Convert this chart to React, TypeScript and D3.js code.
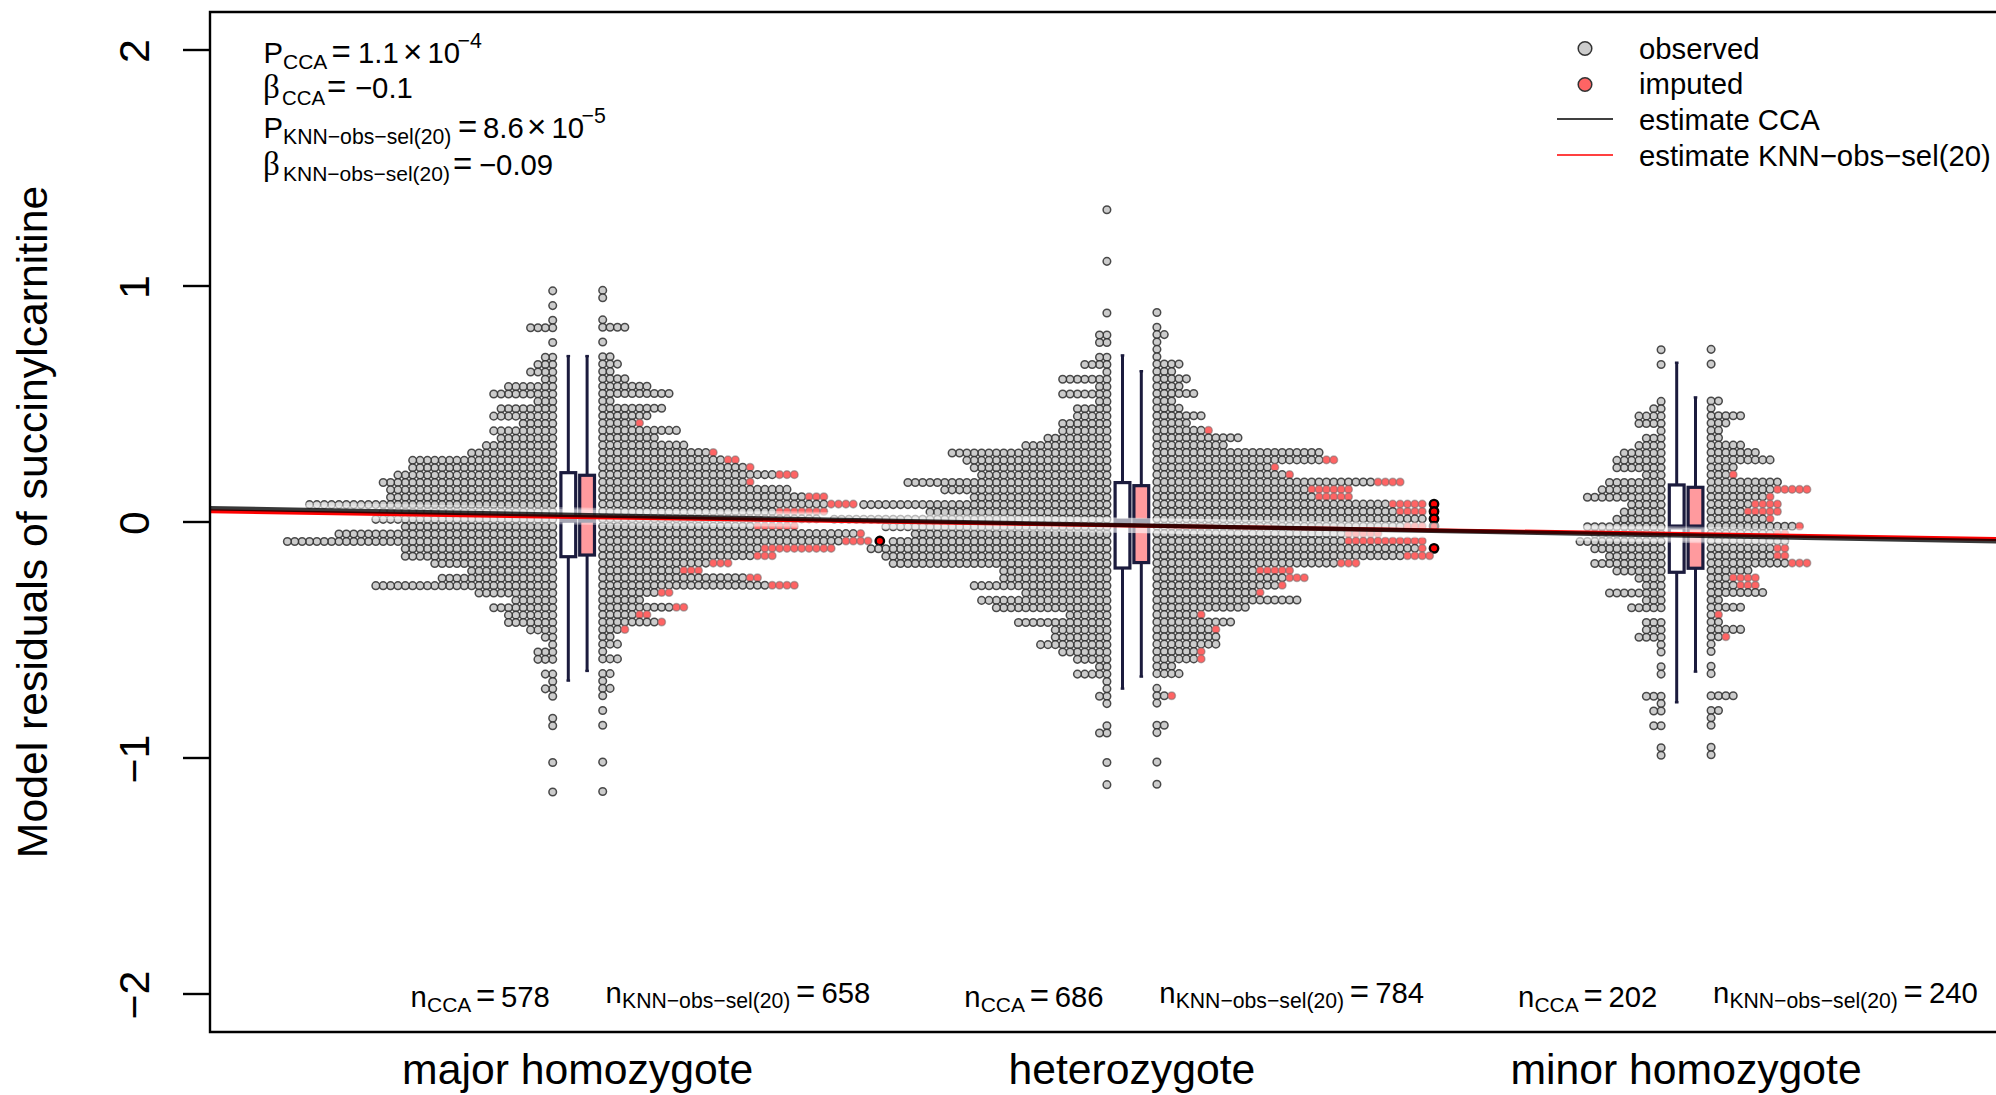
import React from "react";
import * as d3 from "d3";

const W = 1996, H = 1095;
const FONT = "'Liberation Sans', Arial, sans-serif";

// genotype groups
const groupLabels = ["major homozygote", "heterozygote", "minor homozygote"];
const nCCA = [578, 686, 202];
const nKNN = [658, 784, 240];
const yTicks = [-2, -1, 0, 1, 2];

// bins of the swarm (data units)
const binOrigin = 0.0113;
const binWidth = 0.03123;

// observed + imputed dots per bin, listed from the top bin downwards
const g1Top = 31;
const g1CcaCounts = [1,0,1,0,1,4,0,1,0,2,3,4,2,7,9,3,8,9,5,9,8,10,12,20,20,22,24,23,23,34,24,25,21,30,37,21,21,17,12,16,25,11,6,9,7,7,4,2,1,3,3,0,2,1,2,1,0,0,1,1,0,0,0,0,1,0,0,0,1];
const g1KnnCounts = [1,1,0,0,1,4,0,1,0,2,3,2,4,7,10,2,9,7,6,11,8,12,16,19,21,27,21,26,31,35,31,30,27,36,37,32,24,18,14,22,27,10,6,12,7,9,4,2,3,1,3,0,2,1,2,1,0,1,0,1,0,0,0,0,1,0,0,0,1];
const g1KnnImputed = [[13,1],[9,1],[8,2],[7,1],[6,3],[5,1],[3,3],[2,4],[1,7],[-1,6],[-2,1],[-3,4],[-4,10],[-5,3],[-6,3],[-7,3],[-8,2],[-9,4],[-10,2],[-12,2],[-13,2],[-14,1],[-15,1]];
const g1KnnPiled = [-3];

const g2Top = 42;
const g2CcaCounts = [1,0,0,0,0,0,0,1,0,0,0,0,0,0,1,0,0,2,2,0,2,4,1,7,2,7,2,5,5,7,7,9,12,22,20,19,18,28,23,19,34,25,38,31,27,30,33,31,30,15,15,19,12,18,16,6,13,8,8,10,7,5,2,5,1,1,2,1,0,0,1,2,0,0,0,1,0,0,1];
const g2KnnCounts = [0,0,0,0,0,0,0,0,0,0,0,0,0,0,1,0,1,2,1,1,1,4,3,5,4,6,3,4,7,5,8,12,10,23,25,17,19,34,27,27,37,37,37,37,31,37,37,38,28,19,21,18,15,20,13,7,11,9,9,9,7,7,3,4,0,1,3,1,0,0,2,1,0,0,0,1,0,0,1];
const g2KnnImputed = [[12,1],[8,2],[7,1],[6,1],[5,4],[4,6],[3,5],[2,5],[1,4],[-1,3],[-2,5],[-3,11],[-4,1],[-5,4],[-6,3],[-7,5],[-8,3],[-9,1],[-10,1],[-13,1],[-15,1],[-18,1],[-19,1],[-24,1]];
const g2KnnPiled = [2, 1, 0, -1, -4];

const g3Top = 23;
const g3CcaCounts = [1,0,1,0,0,0,0,1,2,4,4,1,3,4,6,7,7,3,8,9,11,5,6,7,11,10,12,10,8,10,7,4,3,8,3,5,0,3,3,4,1,1,0,1,1,0,0,3,1,2,0,2,0,0,1,1];
const g3KnnCounts = [1,0,1,0,0,0,0,2,1,5,3,2,2,5,7,9,4,4,10,14,9,10,10,9,13,11,11,11,11,14,6,7,7,8,2,5,2,2,5,3,1,1,0,1,1,0,0,4,0,2,1,1,0,0,1,1];
const g3KnnImputed = [[6,1],[4,5],[3,1],[2,4],[1,5],[0,1],[-1,1],[-2,2],[-4,2],[-5,2],[-6,3],[-8,4],[-9,3],[-13,1],[-16,1]];
const g3KnnPiled: number[] = [];

// box statistics: [whisker low, q1, median, q3, whisker high]
const ccaBoxes = [
  [-0.672, -0.147, 0.008, 0.209, 0.703],
  [-0.706, -0.195, 0.004, 0.167, 0.706],
  [-0.764, -0.213, -0.021, 0.157, 0.675],
];
const knnBoxes = [
  [-0.631, -0.14, 0.008, 0.198, 0.703],
  [-0.655, -0.172, 0.004, 0.154, 0.639],
  [-0.634, -0.196, -0.021, 0.147, 0.528],
];

// regression estimates at genotype 0 and 2
const ccaEstimate = [0.0297, -0.0572];
const knnEstimate = [0.0212, -0.0513];
const ribbonHalf = 0.032;

const cols = {
  obsFill: "#cccccc",
  impFill: "#ff6464",
  dotStroke: "rgba(45,45,45,0.85)",
  navy: "#1b1b3d",
  pink: "#ff9a9e",
};

const x = d3.scaleLinear().domain([0, 2]).range([577.7, 1686.1]);
const y = d3.scaleLinear().domain([-2, 2]).range([994, 50]);
const plot = { left: 210, top: 12, bottom: 1032, right: 2000 };
const dotStep = 7.37;
const colOffset = 25;
const boxOffset = 9.4;
const boxHalf = 7.4;
const pileCol = 37.6;

type Dot = { cx: number; cy: number; kind: "obs" | "imp" | "pile" };

function swarm(g: number, top: number, counts: number[], side: -1 | 1, imputed: number[][] = [], piled: number[] = [], shift = 0): Dot[] {
  const impMap = new Map(imputed.map((d) => [d[0], d[1]]));
  const out: Dot[] = [];
  const col0 = x(g) + side * colOffset;
  counts.forEach((n, i) => {
    const k = top - i;
    const cy = y(binOrigin + binWidth * k + shift);
    const imp = impMap.get(k) ?? 0;
    for (let c = 0; c < n; c++) {
      out.push({ cx: col0 + side * c * dotStep, cy, kind: c >= n - imp ? "imp" : "obs" });
    }
    if (piled.includes(k)) out.push({ cx: col0 + side * pileCol * dotStep, cy, kind: "pile" });
  });
  return out;
}

const allDots: Dot[] = [
  ...swarm(0, g1Top, g1CcaCounts, -1),
  ...swarm(0, g1Top, g1KnnCounts, 1, g1KnnImputed, g1KnnPiled, 0.002),
  ...swarm(1, g2Top, g2CcaCounts, -1),
  ...swarm(1, g2Top, g2KnnCounts, 1, g2KnnImputed, g2KnnPiled, 0.002),
  ...swarm(2, g3Top, g3CcaCounts, -1),
  ...swarm(2, g3Top, g3KnnCounts, 1, g3KnnImputed, g3KnnPiled, 0.002),
];

function T({ x, y, s, children, anchor, rotate }: any) {
  return (
    <text x={x} y={y} fontSize={s} fontFamily={FONT} textAnchor={anchor} fill="#000"
      transform={rotate ? `rotate(-90 ${x} ${y})` : undefined}>{children}</text>
  );
}
function Beta({ x, y }: any) {
  return <text x={x} y={y} fontSize={33} fontFamily="'Liberation Serif', serif" fill="#000">β</text>;
}

function Box({ g, side, st, fill }: any) {
  const cx = x(g) + side * boxOffset;
  const [lo, q1, med, q3, hi] = st;
  return (
    <g stroke={cols.navy} fill="none">
      <line x1={cx} x2={cx} y1={y(hi)} y2={y(q3)} strokeWidth={3} />
      <line x1={cx} x2={cx} y1={y(lo)} y2={y(q1)} strokeWidth={3} />
      <line x1={cx - 1.8} x2={cx + 1.8} y1={y(hi)} y2={y(hi)} strokeWidth={2.4} />
      <line x1={cx - 1.8} x2={cx + 1.8} y1={y(lo)} y2={y(lo)} strokeWidth={2.4} />
      <rect x={cx - boxHalf} width={boxHalf * 2} y={y(q3)} height={y(q1) - y(q3)} fill={fill} strokeWidth={3.2} />
      <line x1={cx - boxHalf} x2={cx + boxHalf} y1={y(med)} y2={y(med)} strokeWidth={5} />
    </g>
  );
}

function EstimateRibbon({ est }: { est: number[] }) {
  const gs = [-0.7, 2.6];
  const at = (g: number) => est[0] + ((est[1] - est[0]) * g) / 2;
  const area = d3.area<number>().x((g) => x(g)).y0((g) => y(at(g) - ribbonHalf)).y1((g) => y(at(g) + ribbonHalf));
  return <path d={area(gs) as string} fill="rgba(255,255,255,0.38)" />;
}
function EstimateLine({ est, color, width, opacity }: any) {
  const gs = [-0.7, 2.6];
  const at = (g: number) => est[0] + ((est[1] - est[0]) * g) / 2;
  const line = d3.line<number>().x((g) => x(g)).y((g) => y(at(g)));
  return <path d={line(gs) as string} fill="none" stroke={color} strokeWidth={width} opacity={opacity} />;
}

export default function App() {
  const subK = "KNN−obs−sel(20)";
  return (
    <svg width={W} height={H} viewBox={`0 0 ${W} ${H}`}
      style={{ position: "absolute", left: 0, top: 0, display: "block", background: "#fff" }}>
      <defs>
        <clipPath id="plotClip">
          <rect x={plot.left} y={plot.top} width={plot.right - plot.left} height={plot.bottom - plot.top} />
        </clipPath>
      </defs>

      <g clipPath="url(#plotClip)">
        {allDots.map((d, i) => (
          <circle key={i} cx={d.cx} cy={d.cy} r={d.kind === "pile" ? 4.2 : 3.8}
            fill={d.kind === "obs" ? cols.obsFill : d.kind === "imp" ? cols.impFill : "#ff0000"}
            stroke={d.kind === "pile" ? "#000" : d.kind === "imp" ? "rgba(110,110,110,0.5)" : cols.dotStroke}
            strokeWidth={d.kind === "pile" ? 2.4 : 1.5} />
        ))}
        {ccaBoxes.map((st, g) => <Box key={g} g={g} side={-1} st={st} fill="#ffffff" />)}
        {knnBoxes.map((st, g) => <Box key={g} g={g} side={1} st={st} fill={cols.pink} />)}
        <EstimateRibbon est={ccaEstimate} />
        <EstimateRibbon est={knnEstimate} />
        <EstimateLine est={knnEstimate} color="#ff0000" width={4} opacity={1} />
        <EstimateLine est={ccaEstimate} color="#000000" width={4.4} opacity={0.78} />
      </g>

      {/* frame: left, top and bottom, the right side runs off the page */}
      <path d={`M${W + 4},${plot.top}H${plot.left}V${plot.bottom}H${W + 4}`} fill="none" stroke="#000" strokeWidth={2.4} />

      {yTicks.map((t) => (
        <g key={t}>
          <line x1={183} x2={plot.left} y1={y(t)} y2={y(t)} stroke="#000" strokeWidth={2.4} />
          <T x={148.5} y={y(t) + 1} s={42.8} anchor="middle" rotate>{t < 0 ? `−${-t}` : t}</T>
        </g>
      ))}
      <T x={46.5} y={522} s={42.75} anchor="middle" rotate>Model residuals of succinylcarnitine</T>
      {groupLabels.map((l, g) => <T key={l} x={x(g)} y={1084} s={42.7} anchor="middle">{l}</T>)}

      {/* statistics */}
      <T x={263.5} y={63} s={29.3}>P</T><T x={283} y={69} s={21}>CCA</T>
      <T x={331.5} y={63} s={33}>=</T><T x={358} y={63} s={29.3}>1.1</T>
      <T x={403} y={63} s={33}>×</T><T x={427.5} y={63} s={29.3}>10</T><T x={457.5} y={48} s={21.3}>−4</T>

      <Beta x={263} y={98} /><T x={282} y={105} s={20.4}>CCA</T>
      <T x={327} y={98} s={33}>=</T><T x={355} y={98} s={29.3}>−0.1</T>

      <T x={263.5} y={138} s={29.3}>P</T><T x={283} y={144} s={21.2}>{subK}</T>
      <T x={458} y={138} s={33}>=</T><T x={483} y={138} s={29.3}>8.6</T>
      <T x={527} y={138} s={33}>×</T><T x={551.5} y={138} s={29.3}>10</T><T x={581.5} y={123} s={21.3}>−5</T>

      <Beta x={263} y={175} /><T x={283} y={181} s={21}>{subK}</T>
      <T x={453} y={175} s={33}>=</T><T x={479} y={175} s={29.3}>−0.09</T>

      {/* legend */}
      <circle cx={1585} cy={48.5} r={6.8} fill={cols.obsFill} stroke="#333" strokeWidth={1.5} />
      <circle cx={1585} cy={84.5} r={6.8} fill={cols.impFill} stroke="#333" strokeWidth={1.5} />
      <line x1={1557} x2={1613} y1={119} y2={119} stroke="#000" strokeWidth={1.3} />
      <line x1={1557} x2={1613} y1={155} y2={155} stroke="#ff0000" strokeWidth={1.3} />
      <T x={1639} y={58.5} s={29.3}>observed</T>
      <T x={1639} y={94} s={29.3}>imputed</T>
      <T x={1639} y={130} s={29.3}>estimate CCA</T>
      <T x={1639} y={165.7} s={29.3}>estimate {subK}</T>

      {/* sample sizes */}
      {nCCA.map((n, g) => {
        const dx = g * 553.7;
        return (
          <g key={g}>
            <T x={410.5 + dx} y={1006.7} s={29.3}>n</T><T x={427 + dx} y={1012} s={21}>CCA</T>
            <T x={476 + dx} y={1006.7} s={33}>=</T><T x={501 + dx} y={1006.7} s={29.3}>{n}</T>
            <T x={605.5 + dx} y={1002.7} s={29.3}>n</T><T x={622 + dx} y={1008} s={21.2}>{subK}</T>
            <T x={796 + dx} y={1002.7} s={33}>=</T><T x={821.5 + dx} y={1002.7} s={29.3}>{nKNN[g]}</T>
          </g>
        );
      })}
    </svg>
  );
}
